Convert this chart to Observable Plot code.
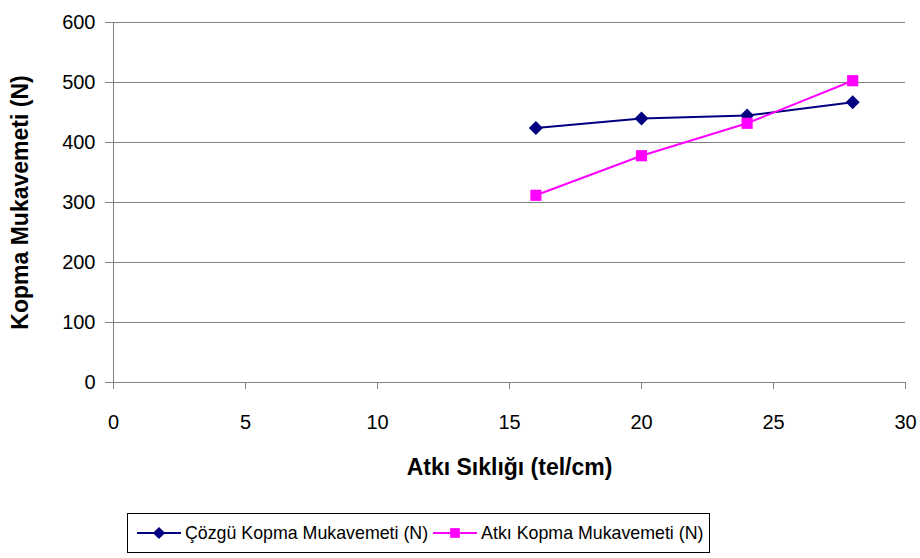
<!DOCTYPE html>
<html>
<head>
<meta charset="utf-8">
<script src="https://cdn.jsdelivr.net/npm/d3@7"></script>
<script src="https://cdn.jsdelivr.net/npm/@observablehq/plot@0.6"></script>
<style>
  html, body { margin: 0; padding: 0; background: #fff; }
  body { width: 920px; height: 558px; position: relative; overflow: hidden; font-family: "Liberation Sans", Arial, sans-serif; }
  #chart { position: absolute; left: 0; top: 0; }
  #legend { position: absolute; left: 127px; top: 513px; }
  #legend .box { border: 1px solid #000; display: flex; align-items: center; height: 40px; padding: 0 6px 0 8px; font-size: 17.8px; color: #000; box-sizing: border-box; }
  #legend .item { display: flex; align-items: center; margin-right: 4px; }
  #legend .item:last-child { margin-right: 0; }
  #legend svg { margin-right: 3px; }
</style>
</head>
<body>
<div id="chart"></div>
<div id="legend"></div>
<script>
// Data
const xValues = [16, 20, 24, 28];
const cozguValues = [424, 440, 445, 467];
const atkiValues = [312, 378, 432, 503];
const seriesNames = ["Çözgü Kopma Mukavemeti (N)", "Atkı Kopma Mukavemeti (N)"];
const seriesColors = ["#000080", "#FF00FF"];
const seriesSymbols = ["diamond2", "square"];
const xTicks = [0, 5, 10, 15, 20, 25, 30];
const yTicks = [0, 100, 200, 300, 400, 500, 600];
const xTitle = "Atkı Sıklığı (tel/cm)";
const yTitle = "Kopma Mukavemeti (N)";

const rows = [];
xValues.forEach((x, i) => rows.push({x, y: cozguValues[i], s: seriesNames[0]}));
xValues.forEach((x, i) => rows.push({x, y: atkiValues[i], s: seriesNames[1]}));

const fontFamily = "'Liberation Sans', Arial, sans-serif";

const chart = Plot.plot({
  width: 920,
  height: 505,
  marginLeft: 113,
  marginRight: 15,
  marginTop: 22,
  marginBottom: 123,
  style: {fontFamily, fontSize: "20px", color: "#000", background: "#fff"},
  x: {domain: [0, 30]},
  y: {domain: [0, 600]},
  color: {domain: seriesNames, range: seriesColors},
  symbol: {domain: seriesNames, range: seriesSymbols},
  marks: [
    Plot.ruleY(yTicks.filter(d => d > 0), {stroke: "#808080", strokeWidth: 1}),
    Plot.ruleX([0], {stroke: "#808080", strokeWidth: 1}),
    Plot.ruleY([0], {stroke: "#808080", strokeWidth: 1}),
    Plot.axisY({ticks: yTicks, tickSize: 8, tickPadding: 10, stroke: "#808080", fill: "#000", fontSize: 20, label: null}),
    Plot.axisX({ticks: xTicks, tickSize: 7, tickPadding: 25, stroke: "#808080", fill: "#000", fontSize: 20, label: null}),
    Plot.line(rows, {x: "x", y: "y", z: "s", stroke: "s", strokeWidth: 2}),
    Plot.dot(rows, {x: "x", y: "y", fill: "s", symbol: "s", r: 6.3, stroke: null}),
    Plot.text([xTitle], {frameAnchor: "bottom", lineAnchor: "middle", dy: 85, fontWeight: "bold", fontSize: 23, fill: "#000"}),
    Plot.text([yTitle], {frameAnchor: "left", textAnchor: "middle", lineAnchor: "middle", rotate: -90, dx: -93, fontWeight: "bold", fontSize: 23, fill: "#000"})
  ]
});
document.getElementById("chart").appendChild(chart);

// Legend (HTML, below the SVG)
const box = document.createElement("div");
box.className = "box";
seriesNames.forEach((name, i) => {
  const item = document.createElement("div");
  item.className = "item";
  const ns = "http://www.w3.org/2000/svg";
  const svg = document.createElementNS(ns, "svg");
  svg.setAttribute("width", 46);
  svg.setAttribute("height", 20);
  const line = document.createElementNS(ns, "line");
  line.setAttribute("x1", 1); line.setAttribute("x2", 45);
  line.setAttribute("y1", 10); line.setAttribute("y2", 10);
  line.setAttribute("stroke", seriesColors[i]); line.setAttribute("stroke-width", 2);
  svg.appendChild(line);
  const sym = document.createElementNS(ns, "path");
  const symbolType = seriesSymbols[i] === "square" ? d3.symbolSquare : d3.symbolDiamond2;
  sym.setAttribute("d", d3.symbol(symbolType, 5.5 * 5.5 * Math.PI)());
  sym.setAttribute("transform", "translate(23,10)");
  sym.setAttribute("fill", seriesColors[i]);
  svg.appendChild(sym);
  item.appendChild(svg);
  const label = document.createElement("span");
  label.textContent = name;
  item.appendChild(label);
  box.appendChild(item);
});
document.getElementById("legend").appendChild(box);
</script>
</body>
</html>
